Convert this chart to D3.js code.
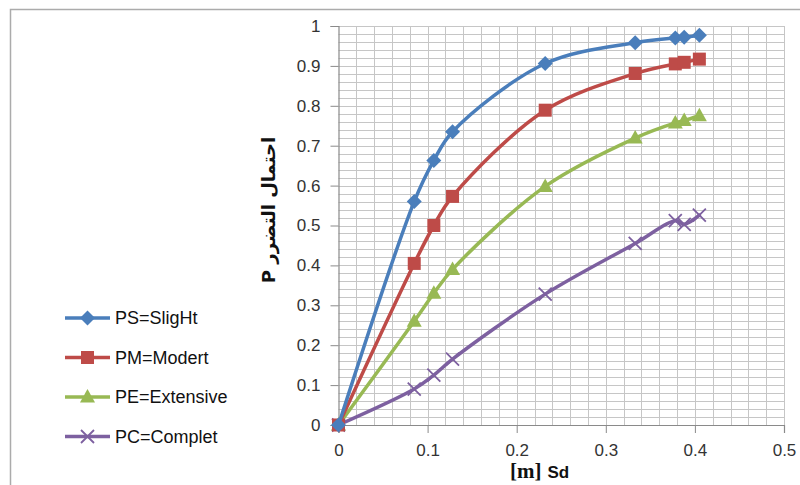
<!DOCTYPE html>
<html>
<head>
<meta charset="utf-8">
<script src="https://cdn.jsdelivr.net/npm/d3@7"></script>
<style>
  body { margin: 0; background: #fff; }
  svg { display: block; }
</style>
</head>
<body>
<div id="chart"></div>
<script>
// Sd values [m] shared by all curves
const sdValues = [0, 0.085, 0.107, 0.128, 0.232, 0.333, 0.378, 0.388, 0.405];
const psSlight    = [0, 0.56, 0.663, 0.735, 0.906, 0.958, 0.970, 0.972, 0.977];
const pmModerate  = [0, 0.405, 0.50, 0.573, 0.789, 0.881, 0.905, 0.909, 0.917];
const peExtensive = [0, 0.26, 0.33, 0.39, 0.598, 0.719, 0.757, 0.763, 0.775];
const pcComplete  = [0, 0.09, 0.125, 0.165, 0.328, 0.455, 0.512, 0.503, 0.526];
const seriesNames = ["PS=SligHt", "PM=Modert", "PE=Extensive", "PC=Complet"];
const xTicks = [0, 0.1, 0.2, 0.3, 0.4, 0.5];
const yTicks = [0, 0.1, 0.2, 0.3, 0.4, 0.5, 0.6, 0.7, 0.8, 0.9, 1];

const width = 800, height = 485;
const plot = {left: 338.5, right: 784, top: 26, bottom: 425};

const colors = ["#4A7EBB", "#BE4B48", "#98B954", "#7D60A0"];
const shapes = ["diamond", "square", "triangle", "cross"];
const allSeries = [psSlight, pmModerate, peExtensive, pcComplete].map((vals, i) => ({
    name: seriesNames[i],
    color: colors[i],
    shape: shapes[i],
    values: vals.map((v, j) => ({x: sdValues[j], y: v}))
}));

const svg = d3.select("#chart").append("svg")
    .attr("width", width)
    .attr("height", height);

// outer chart frame (only top + left visible)
svg.append("path")
    .attr("d", `M10.5,${height} V9.5 H${width}`)
    .attr("fill", "none")
    .attr("stroke", "#ababab")
    .attr("stroke-width", 1.5);

const x = d3.scaleLinear().domain([0, 0.5]).range([plot.left, plot.right]);
const y = d3.scaleLinear().domain([0, 1]).range([plot.bottom, plot.top]);

// grid every 0.02
const grid = svg.append("g").attr("class", "grid");
grid.selectAll(".vgrid")
    .data(d3.range(1, 26).map(i => i * 0.02))
    .enter().append("line")
    .attr("x1", d => Math.round(x(d)) + 0.5)
    .attr("x2", d => Math.round(x(d)) + 0.5)
    .attr("y1", plot.top)
    .attr("y2", plot.bottom)
    .attr("stroke", "#c6c6c6");
grid.selectAll(".hgrid")
    .data(d3.range(1, 51).map(i => i * 0.02))
    .enter().append("line")
    .attr("y1", d => Math.round(y(d)) + 0.5)
    .attr("y2", d => Math.round(y(d)) + 0.5)
    .attr("x1", plot.left)
    .attr("x2", plot.right)
    .attr("stroke", "#c6c6c6");

const fmt = d => String(+d.toFixed(1));

const xAxis = svg.append("g")
    .attr("transform", `translate(0,${plot.bottom})`)
    .call(d3.axisBottom(x).tickValues(xTicks).tickFormat(fmt).tickSize(8).tickPadding(11));
const yAxis = svg.append("g")
    .attr("transform", `translate(${plot.left},0)`)
    .call(d3.axisLeft(y).tickValues(yTicks).tickFormat(fmt).tickSize(8).tickPadding(10));

[xAxis, yAxis].forEach(ax => {
    ax.select(".domain").attr("stroke", "#8a8a8a").attr("stroke-width", 1.2);
    ax.selectAll(".tick line").attr("stroke", "#8a8a8a");
    ax.selectAll(".tick text")
        .attr("fill", "#333")
        .style("font-family", "'Liberation Sans', Arial, sans-serif")
        .style("font-size", "17px");
});

// axis titles
svg.append("text")
    .attr("transform", "translate(275,210) rotate(-90)")
    .attr("text-anchor", "middle")
    .attr("direction", "rtl")
    .style("font-family", "'DejaVu Sans', sans-serif")
    .style("font-weight", "bold")
    .style("font-size", "18px")
    .attr("fill", "#111")
    .text("احتمال التضرر P");

const xt = svg.append("text")
    .attr("x", 510)
    .attr("y", 478)
    .attr("fill", "#111");
xt.append("tspan")
    .style("font-family", "'Liberation Serif', 'Times New Roman', serif")
    .style("font-weight", "bold")
    .style("font-size", "21px")
    .text("[m]");
xt.append("tspan")
    .attr("dx", 6)
    .style("font-family", "'Liberation Sans', Arial, sans-serif")
    .style("font-weight", "bold")
    .style("font-size", "17px")
    .text("Sd");

// marker drawing
function marker(sel, shape, color) {
    if (shape === "diamond") {
        sel.append("path").attr("d", "M0,-7.5L7.5,0L0,7.5L-7.5,0Z").attr("fill", color);
    } else if (shape === "square") {
        sel.append("rect").attr("x", -6.5).attr("y", -6.5).attr("width", 13).attr("height", 13).attr("fill", color);
    } else if (shape === "triangle") {
        sel.append("path").attr("d", "M0,-8L7.5,5.5L-7.5,5.5Z").attr("fill", color);
    } else {
        sel.append("path").attr("d", "M-6.5,-6.5L6.5,6.5M-6.5,6.5L6.5,-6.5")
            .attr("stroke", color).attr("stroke-width", 1.8).attr("fill", "none");
    }
}

const line = d3.line()
    .x(d => x(d.x))
    .y(d => y(d.y))
    .curve(d3.curveCatmullRom.alpha(0.5));

const seriesG = svg.selectAll(".series")
    .data(allSeries.slice().reverse())
    .enter().append("g")
    .attr("class", "series");

seriesG.append("path")
    .attr("d", d => line(d.values))
    .attr("fill", "none")
    .attr("stroke", d => d.color)
    .attr("stroke-width", 3.5)
    .attr("stroke-linejoin", "round")
    .attr("stroke-linecap", "round");

seriesG.each(function(s) {
    d3.select(this).selectAll(".pt")
        .data(s.values)
        .enter().append("g")
        .attr("class", "pt")
        .attr("transform", d => `translate(${x(d.x)},${y(d.y)})`)
        .each(function() { marker(d3.select(this), s.shape, s.color); });
});

// legend
const legend = svg.append("g").attr("transform", "translate(65,318)");
const item = legend.selectAll(".item")
    .data(allSeries)
    .enter().append("g")
    .attr("class", "item")
    .attr("transform", (d, i) => `translate(0,${i * 39.5})`);
item.append("line")
    .attr("x1", 0).attr("x2", 45)
    .attr("stroke", d => d.color)
    .attr("stroke-width", 3.5);
item.append("g")
    .attr("transform", "translate(22.5,0)")
    .each(function(d) { marker(d3.select(this), d.shape, d.color); });
item.append("text")
    .attr("x", 50)
    .attr("dy", "0.35em")
    .attr("fill", "#111")
    .style("font-family", "'Liberation Sans', Arial, sans-serif")
    .style("font-size", "18px")
    .text(d => d.name);
</script>
</body>
</html>
